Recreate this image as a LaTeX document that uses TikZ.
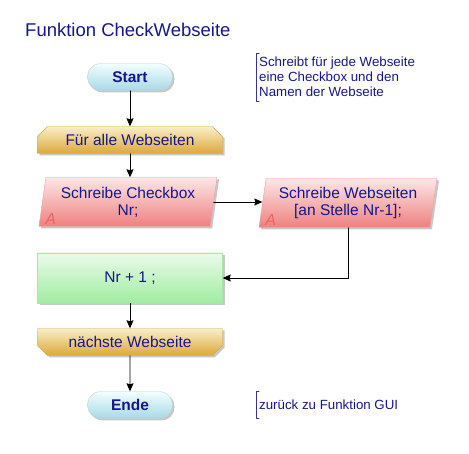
\documentclass[tikz,border=0pt]{standalone}
\usepackage{fontspec}
\setmainfont{Liberation Sans}
\usetikzlibrary{shapes.geometric,shapes.misc,shadows,arrows.meta,positioning}

\definecolor{ink}{RGB}{22,22,140}
\definecolor{frame}{RGB}{60,50,150}

\begin{document}
\begin{tikzpicture}[x=1pt,y=-1pt,line cap=round,line join=round,>={Stealth[length=8pt,width=7pt,inset=1pt]},
  every node/.style={inner sep=1pt,text=ink,font=\fontsize{15.5}{17}\selectfont},
  boxshadow/.style={drop shadow={shadow xshift=2pt,shadow yshift=-2pt,fill=black,opacity=.22}},
  startend/.style={rectangle,rounded corners=13pt,minimum width=85pt,minimum height=27pt,draw=cyan!30!gray!45,
    top color=cyan!5,bottom color={rgb,255:red,168;green,216;blue,230},boxshadow,font=\bfseries\fontsize{15.5}{17}\selectfont},
  loopbox/.style={chamfered rectangle,chamfered rectangle sep=5pt,minimum width=185pt,minimum height=27pt,
    draw={rgb,255:red,210;green,170;blue,80},top color={rgb,255:red,249;green,238;blue,200},
    bottom color={rgb,255:red,220;green,168;blue,58},boxshadow},
  iobox/.style={trapezium,trapezium left angle=78,trapezium right angle=102,trapezium stretches body,
    minimum width=178pt,minimum height=49pt,draw={rgb,255:red,236;green,160;blue,160},
    top color={rgb,255:red,253;green,230;blue,230},bottom color={rgb,255:red,238;green,128;blue,128},
    boxshadow,align=center},
  procbox/.style={rectangle,minimum width=185pt,minimum height=50pt,draw={rgb,255:red,170;green,228;blue,170},
    top color={rgb,255:red,234;green,251;blue,234},bottom color={rgb,255:red,160;green,236;blue,160},boxshadow},
  amark/.style={text={rgb,255:red,236;green,100;blue,100},font=\itshape\fontsize{16}{16}\selectfont},
  note/.style={anchor=west,align=left,inner xsep=3pt,inner ysep=4pt,font=\fontsize{13.3}{15}\selectfont},
  flow/.style={->,line width=0.7pt}]
  \useasboundingbox (0,0) rectangle (469,454);

  \node[anchor=west,inner sep=0pt,font=\fontsize{18.5}{20}\selectfont] (title) at (25,30) {Funktion CheckWebseite};

  \node[startend] (start) at (130,77) {Start};
  \node[loopbox,chamfered rectangle corners={north west,north east}] (forall) at (130,140) {Für alle Webseiten};
  \node[iobox] (cb) at (128,202) {Schreibe Checkbox\\Nr;};
  \node[iobox] (wb) at (348,203) {Schreibe Webseiten\\{}[an Stelle Nr-1];};
  \node[procbox] (calc) at (130,278) {Nr + 1 ;};
  \node[loopbox,chamfered rectangle corners={south west,south east}] (next) at (130,342) {nächste Webseite};
  \node[startend] (ende) at (130,405) {Ende};

  \node[amark] (cbA) at ([xshift=12pt,yshift=8pt]cb.bottom left corner) {A};
  \node[amark] (wbA) at ([xshift=12pt,yshift=8pt]wb.bottom left corner) {A};

  % Kommentare
  \node[note] (n1) at (256,77) {Schreibt für jede Webseite\\eine Checkbox und den\\Namen der Webseite};
  \node[note,minimum height=26pt] (n2) at (256,405) {zurück zu Funktion GUI};
  \draw[frame,line width=0.8pt] ([xshift=3pt]n1.north west) -- (n1.north west) -- (n1.south west) -- ([xshift=3pt]n1.south west);
  \draw[frame,line width=0.8pt] ([xshift=3pt]n2.north west) -- (n2.north west) -- (n2.south west) -- ([xshift=3pt]n2.south west);

  \draw[flow] (start) -- (forall);
  \draw[flow] (forall.south) -- (forall.south |- cb.top side);
  \draw[flow] (cb.east) -- (cb.east -| wb.west);
  \draw[flow] (wb.south) |- (calc.east);
  \draw[flow] (calc) -- (next);
  \draw[flow] (next) -- (ende);
\end{tikzpicture}
\end{document}
